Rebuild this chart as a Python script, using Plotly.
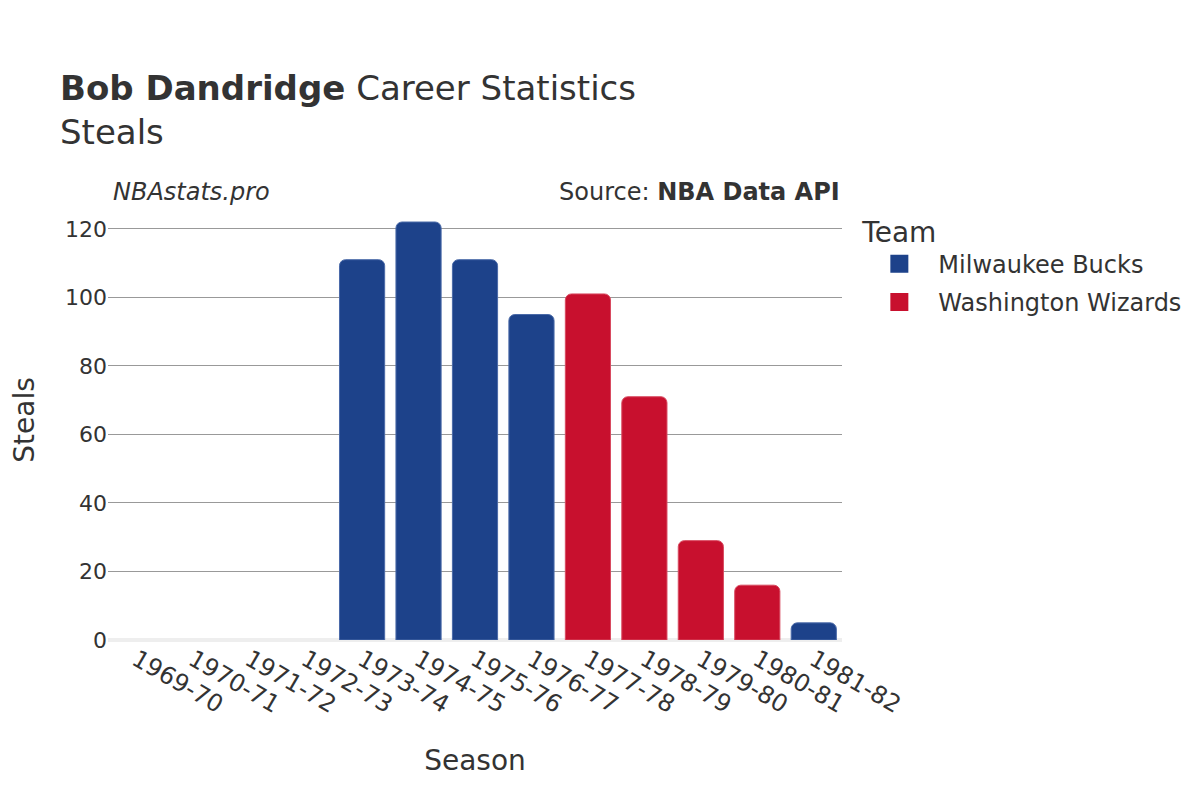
import plotly.graph_objects as go

seasons = ["1969-70", "1970-71", "1971-72", "1972-73", "1973-74", "1974-75", "1975-76",
           "1976-77", "1977-78", "1978-79", "1979-80", "1980-81", "1981-82"]
bucks_seasons = ["1969-70", "1970-71", "1971-72", "1972-73", "1973-74", "1974-75",
                 "1975-76", "1976-77", "1981-82"]
bucks_steals = [0, 0, 0, 0, 111, 122, 111, 95, 5]
wizards_seasons = ["1977-78", "1978-79", "1979-80", "1980-81"]
wizards_steals = [101, 71, 29, 16]

teams = ["Milwaukee Bucks", "Washington Wizards"]
team_colors = ["#1D428A", "#C8102E"]
team_outline = ["#4a6aa8", "#d84a60"]

font_family = "DejaVu Sans"
text_color = "#333333"

fig = go.Figure()
for name, xs, ys, col, oc in [(teams[0], bucks_seasons, bucks_steals, team_colors[0], team_outline[0]),
                              (teams[1], wizards_seasons, wizards_steals, team_colors[1], team_outline[1])]:
    widths = [1 if v > 0 else 0 for v in ys]
    fig.add_trace(go.Bar(x=xs, y=ys, name=name, legendgroup=name, showlegend=False,
                         marker=dict(color=col, line=dict(color=oc, width=widths))))
    # legend proxy with larger symbol
    fig.add_trace(go.Scatter(x=[None], y=[None], mode="markers", name=name, legendgroup=name,
                             marker=dict(symbol="square", size=21, color=col,
                                         line=dict(color=col, width=2))))

fig.update_layout(
    width=1200, height=800,
    barmode="relative", bargap=0.2, barcornerradius=6,
    plot_bgcolor="white", paper_bgcolor="white",
    font=dict(family=font_family, size=22, color=text_color),
    margin=dict(l=100, r=366, t=192, b=168, autoexpand=False),
    title=dict(text="<b>Bob Dandridge</b> Career Statistics<br>Steals",
               x=52 / 1200, xanchor="left", y=0.885, yanchor="top",
               font=dict(size=34, color=text_color)),
    legend=dict(title=dict(text="Team", font=dict(size=28)), font=dict(size=24),
                x=1.025, xanchor="left", y=0.988, yanchor="top", itemwidth=68,
                tracegroupgap=4),
    xaxis=dict(title=dict(text="Season", font=dict(size=28), standoff=32), type="category",
               categoryorder="array", categoryarray=seasons, tickangle=30,
               tickfont=dict(size=24), showgrid=False, showline=False, automargin=False),
    yaxis=dict(title=dict(text="Steals", font=dict(size=28), standoff=30), showgrid=True,
               gridcolor="#999999", gridwidth=1, zeroline=True, zerolinecolor="#eeeeee",
               zerolinewidth=4, tickfont=dict(size=22), dtick=20, automargin=True),
    annotations=[
        dict(text="<i>NBAstats.pro</i>", x=0, xref="paper", xanchor="left", xshift=3,
             y=1.0, yref="paper", yanchor="bottom", yshift=-8, showarrow=False,
             font=dict(size=24, color=text_color)),
        dict(text="Source: <b>NBA Data API</b>", x=1, xref="paper", xanchor="right",
             y=1.0, yref="paper", yanchor="bottom", yshift=-8, showarrow=False,
             font=dict(size=24, color=text_color)),
    ],
)

fig.write_html("out.html")
